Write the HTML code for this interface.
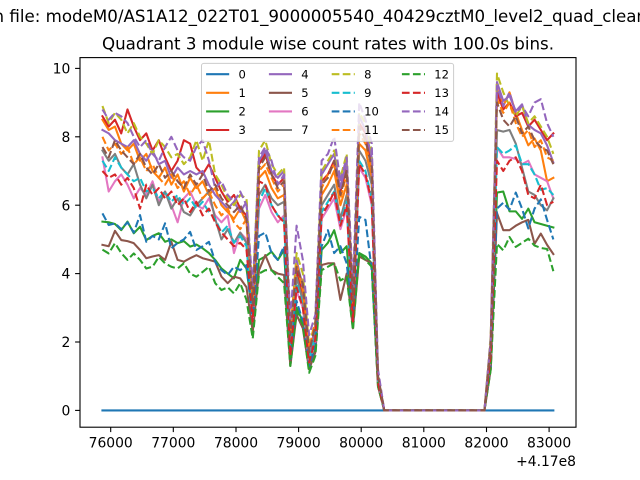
<!DOCTYPE html>
<html>
<head>
<meta charset="utf-8">
<style>
html,body{margin:0;padding:0;background:#fff;}
svg{display:block;}
text{font-family:"DejaVu Sans","Liberation Sans",sans-serif;fill:#000;}
</style>
</head>
<body>
<svg width="640" height="480" viewBox="0 0 640 480" xmlns="http://www.w3.org/2000/svg">
<rect x="0" y="0" width="640" height="480" fill="#ffffff"/>

<text x="-6.5" y="22" font-size="16.67">n file: modeM0/AS1A12_022T01_9000005540_40429cztM0_level2_quad_clean.evt</text>
<text x="328" y="49.3" font-size="16.67" text-anchor="middle">Quadrant 3 module wise count rates with 100.0s bins.</text>

<g transform="translate(102.45,410.4) scale(6.2625,-34.2)" fill="none" stroke-width="2.08" stroke-linejoin="round">
<polyline vector-effect="non-scaling-stroke" stroke="#1f77b4" stroke-linecap="square" points="0,0 72,0"/>
<polyline vector-effect="non-scaling-stroke" stroke="#ff7f0e" stroke-linecap="square" points="0,8.5 1,8.2 2,8.3 3,7.8 4,7.6 5,7.8 6,7.3 7,7.5 8,7 9,6.8 10,7.1 11,6.6 12,6.9 13,6.4 14,6.8 15,6.5 16,6.7 17,6.3 18,6.5 19,6 20,5.8 21,5.6 22,5.9 23,5.5 24,3 25,6.8 26,7 27,6.5 28,6.2 29,6.3 30,2.1 31,4 32,3.8 33,1.5 34,2.5 35,6.3 36,6.6 37,7 38,6 39,6.6 40,2.8 41,7.8 42,7.6 43,6.8 44,0.9 45,0 61,0 62,1.9 63,9.4 64,8.9 65,9.3 66,8.7 67,8.2 68,7.75 69,7.95 70,7.6 71,6.7 72,6.8"/>
<polyline vector-effect="non-scaling-stroke" stroke="#2ca02c" stroke-linecap="square" points="0,5.52 1,5.5 2,5.45 3,5.27 4,5.52 5,5.18 6,5.37 7,4.98 8,5.1 9,5.18 10,4.93 11,5 12,4.89 13,4.95 14,4.79 15,4.85 16,4.74 17,4.6 18,4.4 19,4.15 20,4 21,3.86 22,4.4 23,4.15 24,2.8 25,4.4 26,4.5 27,4.64 28,4.4 29,4.69 30,1.4 31,3 32,2.6 33,1.2 34,1.8 35,4.69 36,4.9 37,5.27 38,4.6 39,4.8 40,2.5 41,4.6 42,4.5 43,4.3 44,0.8 45,0 61,0 62,1.4 63,6.37 64,6.4 65,5.82 66,5.82 67,5.6 68,5.9 69,5.5 70,5.45 71,5.4 72,5.35"/>
<polyline vector-effect="non-scaling-stroke" stroke="#d62728" stroke-linecap="square" points="0,8.6 1,8.3 2,8.5 3,8.1 4,8.8 5,8.3 6,7.9 7,8.1 8,7.6 9,7.9 10,7.4 11,7 12,7.3 13,7.9 14,7.8 15,7.1 16,6.9 17,7.2 18,6.8 19,6.4 20,6.1 21,6.3 22,5.9 23,5.7 24,3 25,7.2 26,7.5 27,6.9 28,6.6 29,6.8 30,1.9 31,4.1 32,3.4 33,1.6 34,2.2 35,6.7 36,6.9 37,7.3 38,6.4 39,7.1 40,2.9 41,8.4 42,8.1 43,7.2 44,0.9 45,0 61,0 62,2 63,9.3 64,8.8 65,9 66,8.6 67,8.7 68,8.3 69,8.5 70,8.2 71,7.9 72,8.1"/>
<polyline vector-effect="non-scaling-stroke" stroke="#9467bd" stroke-linecap="square" points="0,8.2 1,8.1 2,7.9 3,7.8 4,7.7 5,7.9 6,7.5 7,7.3 8,7.6 9,7.2 10,7.3 11,6.8 12,7.1 13,6.9 14,7 15,6.9 16,7 17,6.6 18,6.3 19,6.1 20,5.9 21,6.1 22,5.8 23,6.1 24,3.2 25,7.3 26,7.6 27,7 28,6.8 29,7 30,2 31,4.4 32,3.6 33,1.7 34,2.4 35,6.9 36,7.2 37,7.5 38,6.5 39,7.3 40,3 41,8.6 42,8.2 43,7.4 44,1 45,0 61,0 62,2 63,9.6 64,9.05 65,9.2 66,8.75 67,8.95 68,8.35 69,8.2 70,8.1 71,7.75 72,7.25"/>
<polyline vector-effect="non-scaling-stroke" stroke="#8c564b" stroke-linecap="square" points="0,4.84 1,4.8 2,5.25 3,4.98 4,4.95 5,4.89 6,4.69 7,4.45 8,4.5 9,4.54 10,4.4 11,4.93 12,4.4 13,4.35 14,4.45 15,4.54 16,4.45 17,4.4 18,4.35 19,3.91 20,3.72 21,3.91 22,3.86 23,3.6 24,2.3 25,4.1 26,4.54 27,4.1 28,4 29,3.96 30,1.3 31,2.8 32,2.4 33,1.2 34,1.7 35,4.25 36,4.3 37,4.3 38,3.23 39,4 40,2.4 41,4.5 42,4.4 43,4.3 44,0.7 45,0 61,0 62,1.2 63,5.77 64,5.27 65,5.27 66,5.4 67,5.5 68,5.57 69,4.87 70,5.17 71,4.84 72,4.57"/>
<polyline vector-effect="non-scaling-stroke" stroke="#e377c2" stroke-linecap="square" points="0,7.4 1,6.4 2,6.7 3,6.9 4,6.6 5,6.2 6,6.5 7,6.3 8,6.7 9,6.1 10,6.4 11,6 12,5.5 13,6.2 14,6.4 15,6 16,5.9 17,6.2 18,5.7 19,5.5 20,5.7 21,4.6 22,5.2 23,5 24,2.6 25,5.9 26,6.3 27,5.8 28,5.5 29,5.7 30,1.7 31,3.5 32,3 33,1.4 34,2 35,5.6 36,5.9 37,6.2 38,5.3 39,5.9 40,2.6 41,7.1 42,6.8 43,6 44,0.8 45,0 61,0 62,1.6 63,7.7 64,7.4 65,7.4 66,7.35 67,7.2 68,7.3 69,6.9 70,6.8 71,6.7 72,6.2"/>
<polyline vector-effect="non-scaling-stroke" stroke="#7f7f7f" stroke-linecap="square" points="0,7.6 1,7.3 2,7.5 3,7.1 4,6.9 5,7.2 6,6.6 7,6.2 8,6.6 9,6 10,6.4 11,5.9 12,6.2 13,5.8 14,5.7 15,6 16,6.2 17,6.4 18,5.6 19,5 20,5.3 21,4.9 22,5.2 23,4.9 24,2.8 25,6.3 26,6.6 27,6.2 28,6 29,6.1 30,1.8 31,3.9 32,3.2 33,1.5 34,2.2 35,6 36,6.3 37,6.6 38,5.6 39,6.3 40,2.7 41,7.6 42,7.3 43,6.6 44,0.9 45,0 61,0 62,1.8 63,8.2 64,8.15 65,8.2 66,7.8 67,7.1 68,6.4 69,6.3 70,6 71,5.85 72,6.2"/>
<g stroke-linecap="butt" stroke-dasharray="7.7,3.33">
<polyline vector-effect="non-scaling-stroke" stroke="#bcbd22" points="0,8.9 1,8.4 2,8.7 3,8.5 4,8.1 5,8.4 6,8 7,7.8 8,7.5 9,7.9 10,7.7 11,7.4 12,7.5 13,7.2 14,7.4 15,7.9 16,7.3 17,7.9 18,6.9 19,6.6 20,6.2 21,6 22,6.3 23,6.2 24,3.4 25,7.6 26,7.9 27,7.2 28,6.9 29,7.1 30,2.2 31,4.6 32,4 33,1.9 34,2.6 35,7 36,7.3 37,7.6 38,6.8 39,7.5 40,3.3 41,8.7 42,8.4 43,7.6 44,1.1 45,0 61,0 62,2.2 63,9.85 64,9.3 65,8.9 66,8.6 67,8.9 68,8.4 69,8.6 70,8.3 71,8 72,7.5"/>
<polyline vector-effect="non-scaling-stroke" stroke="#17becf" points="0,7.3 1,7 2,7.4 3,7.1 4,6.9 5,6.7 6,6.8 7,6.4 8,6.5 9,6.2 10,6.4 11,6.1 12,6.3 13,6 14,6.2 15,5.9 16,6.1 17,5.8 18,5.6 19,5.2 20,5.4 21,4.9 22,5.1 23,4.8 24,2.7 25,6.1 26,6.5 27,6 28,5.7 29,5.6 30,1.8 31,3.7 32,3.1 33,1.5 34,2.2 35,5.8 36,6.1 37,6.4 38,5.5 39,6.1 40,2.7 41,7.3 42,7 43,6.2 44,0.9 45,0 61,0 62,1.7 63,7.7 64,7.5 65,7.6 66,7.75 67,7.2 68,7.2 69,6.9 70,6.45 71,6.5 72,6.3"/>
<polyline vector-effect="non-scaling-stroke" stroke="#1f77b4" points="0,5.76 1,5.42 2,5.47 3,5.3 4,5.5 5,5.2 6,5.71 7,4.93 8,5.1 9,5 10,5.47 11,4.74 12,4.9 13,5 14,5.22 15,4.69 16,4.8 17,4.93 18,4.35 19,4.1 20,3.96 21,4.2 22,4.1 23,4.25 24,2.6 25,5.1 26,5.2 27,4.6 28,4.4 29,4.8 30,1.5 31,3.2 32,2.6 33,1.3 34,1.9 35,4.8 36,5.27 37,4.6 38,4.8 39,4.3 40,2.6 41,5.66 42,5.57 43,4.1 44,0.8 45,0 61,0 62,1.3 63,5.9 64,6.07 65,5.87 66,6.37 67,5.9 68,5.32 69,5.9 70,6.17 71,5.57 72,5"/>
<polyline vector-effect="non-scaling-stroke" stroke="#ff7f0e" points="0,8 1,7.6 2,7.8 3,7.5 4,7.7 5,7.2 6,7.4 7,7 8,7.2 9,6.8 10,6.6 11,6.9 12,6.5 13,6.7 14,6.3 15,6.6 16,6.2 17,6.4 18,6 19,5.7 20,5.9 21,5.5 22,5.3 23,5.6 24,3.2 25,7 26,7.2 27,6.8 28,6.4 29,6.6 30,2.3 31,4.3 32,3.5 33,1.8 34,2.6 35,6.5 36,6.9 37,7.2 38,6.2 39,6.9 40,3.1 41,8.1 42,7.8 43,7 44,1 45,0 61,0 62,1.8 63,9.1 64,8.7 65,9 66,8.4 67,8 68,8.2 69,7.7 70,7.9 71,7.4 72,7.3"/>
<polyline vector-effect="non-scaling-stroke" stroke="#2ca02c" points="0,4.7 1,4.59 2,4.89 3,4.6 4,4.4 5,4.59 6,4.4 7,4.15 8,4.2 9,4.49 10,4.3 11,4.2 12,4.15 13,4.3 14,4 15,3.91 16,4.05 17,4.2 18,3.72 19,3.52 20,3.6 21,3.42 22,3.72 23,3.23 24,2.1 25,4 26,4.1 27,4.1 28,3.9 29,3.72 30,1.3 31,2.9 32,2.5 33,1.1 34,1.6 35,4.1 36,4.2 37,4.3 38,3.8 39,3.9 40,2.35 41,4.6 42,4.4 43,4.2 44,0.7 45,0 61,0 62,1.2 63,4.87 64,4.68 65,5.07 66,4.78 67,4.9 68,5.02 69,4.82 70,4.75 71,4.72 72,4.07"/>
<polyline vector-effect="non-scaling-stroke" stroke="#d62728" points="0,7 1,6.8 2,6.9 3,6.6 4,6.8 5,6.5 6,5.9 7,6.6 8,6.3 9,6.5 10,6.2 11,6.4 12,6 13,6.2 14,5.8 15,6.1 16,5.7 17,5.9 18,5.5 19,5.2 20,5 21,4.8 22,4.9 23,4.7 24,2.6 25,6.7 26,6.6 27,6 28,5.7 29,5.5 30,1.6 31,3.6 32,3 33,1.4 34,2.1 35,5.7 36,6 37,6.4 38,5.4 39,6 40,2.6 41,7.2 42,6.9 43,6.1 44,0.8 45,0 61,0 62,1.6 63,7.3 64,7 65,7.3 66,7.4 67,7 68,6.3 69,6.2 70,6.6 71,6 72,6.1"/>
<polyline vector-effect="non-scaling-stroke" stroke="#9467bd" points="0,8.8 1,8.5 2,8.7 3,8.6 4,8.4 5,8 6,7.7 7,7.9 8,7.5 9,7.3 10,7.7 11,8 12,7.6 13,7.4 14,7.3 15,7.7 16,7.9 17,7.3 18,6.5 19,6.7 20,6.3 21,6.1 22,6.4 23,6 24,3.6 25,7.4 26,7.7 27,7.3 28,6.6 29,6.9 30,2.6 31,5.4 32,4.4 33,2.2 34,2.8 35,7.3 36,7.5 37,8 38,6.7 39,7.4 40,3.6 41,9 42,8.5 43,7.8 44,1.2 45,0 61,0 62,2.1 63,9.5 64,8.9 65,9.3 66,8.7 67,8.9 68,8.6 69,9 70,9.1 71,8.4 72,8"/>
<polyline vector-effect="non-scaling-stroke" stroke="#8c564b" points="0,7.7 1,7.4 2,7.9 3,7.6 4,7.4 5,7.2 6,7.5 7,7.1 8,6.9 9,7.2 10,6.8 11,7 12,6.7 13,6.5 14,6.9 15,6.6 16,6.9 17,6.4 18,6.6 19,6.2 20,6 21,5.8 22,6 23,5.6 24,3.1 25,7.1 26,7.4 27,6.9 28,6.5 29,6.7 30,2.2 31,4.2 32,3.7 33,1.7 34,2.5 35,6.6 36,6.8 37,7.3 38,6.3 39,7 40,3.2 41,8.3 42,7.9 43,7.1 44,1 45,0 61,0 62,1.9 63,9 64,8.5 65,8.3 66,8.6 67,8.1 68,8.3 69,7.9 70,7.7 71,7.6 72,7.2"/>
</g>
</g>

<rect x="80" y="57.6" width="496" height="369.6" fill="none" stroke="#000" stroke-width="1.1"/>

<g stroke="#000" stroke-width="1.1">
<line x1="80" y1="410.4" x2="75.1" y2="410.4"/>
<line x1="80" y1="342" x2="75.1" y2="342"/>
<line x1="80" y1="273.6" x2="75.1" y2="273.6"/>
<line x1="80" y1="205.2" x2="75.1" y2="205.2"/>
<line x1="80" y1="136.8" x2="75.1" y2="136.8"/>
<line x1="80" y1="68.4" x2="75.1" y2="68.4"/>
</g>
<g font-size="13.89" text-anchor="end">
<text x="70.3" y="415.5">0</text>
<text x="70.3" y="347.1">2</text>
<text x="70.3" y="278.7">4</text>
<text x="70.3" y="210.3">6</text>
<text x="70.3" y="141.9">8</text>
<text x="70.3" y="73.5">10</text>
</g>

<g stroke="#000" stroke-width="1.1">
<line x1="110.7" y1="427.2" x2="110.7" y2="432.1"/>
<line x1="173.3" y1="427.2" x2="173.3" y2="432.1"/>
<line x1="236" y1="427.2" x2="236" y2="432.1"/>
<line x1="298.6" y1="427.2" x2="298.6" y2="432.1"/>
<line x1="361.2" y1="427.2" x2="361.2" y2="432.1"/>
<line x1="423.8" y1="427.2" x2="423.8" y2="432.1"/>
<line x1="486.5" y1="427.2" x2="486.5" y2="432.1"/>
<line x1="549.1" y1="427.2" x2="549.1" y2="432.1"/>
</g>
<g font-size="13.89" text-anchor="middle">
<text x="110.7" y="447.5">76000</text>
<text x="173.3" y="447.5">77000</text>
<text x="236" y="447.5">78000</text>
<text x="298.6" y="447.5">79000</text>
<text x="361.2" y="447.5">80000</text>
<text x="423.8" y="447.5">81000</text>
<text x="486.5" y="447.5">82000</text>
<text x="549.1" y="447.5">83000</text>
</g>
<text x="576" y="466" font-size="13.89" text-anchor="end">+4.17e8</text>

<rect x="201.5" y="63.4" width="252.1" height="78" rx="2.3" ry="2.3" fill="#ffffff" fill-opacity="0.8" stroke="#cccccc" stroke-width="1"/>
<g fill="none" stroke-width="2.08">
<line x1="206.1" y1="74.2" x2="229.2" y2="74.2" stroke="#1f77b4"/>
<line x1="206.1" y1="92.8" x2="229.2" y2="92.8" stroke="#ff7f0e"/>
<line x1="206.1" y1="111.4" x2="229.2" y2="111.4" stroke="#2ca02c"/>
<line x1="206.1" y1="130" x2="229.2" y2="130" stroke="#d62728"/>
<line x1="268.9" y1="74.2" x2="292" y2="74.2" stroke="#9467bd"/>
<line x1="268.9" y1="92.8" x2="292" y2="92.8" stroke="#8c564b"/>
<line x1="268.9" y1="111.4" x2="292" y2="111.4" stroke="#e377c2"/>
<line x1="268.9" y1="130" x2="292" y2="130" stroke="#7f7f7f"/>
<g stroke-dasharray="7.7,3.33">
<line x1="331.7" y1="74.2" x2="354.8" y2="74.2" stroke="#bcbd22"/>
<line x1="331.7" y1="92.8" x2="354.8" y2="92.8" stroke="#17becf"/>
<line x1="331.7" y1="111.4" x2="354.8" y2="111.4" stroke="#1f77b4"/>
<line x1="331.7" y1="130" x2="354.8" y2="130" stroke="#ff7f0e"/>
<line x1="401.9" y1="74.2" x2="425" y2="74.2" stroke="#2ca02c"/>
<line x1="401.9" y1="92.8" x2="425" y2="92.8" stroke="#d62728"/>
<line x1="401.9" y1="111.4" x2="425" y2="111.4" stroke="#9467bd"/>
<line x1="401.9" y1="130" x2="425" y2="130" stroke="#8c564b"/>
</g>
</g>
<g font-size="11.57">
<text x="238.5" y="78.4">0</text>
<text x="238.5" y="97">1</text>
<text x="238.5" y="115.6">2</text>
<text x="238.5" y="134.2">3</text>
<text x="301.3" y="78.4">4</text>
<text x="301.3" y="97">5</text>
<text x="301.3" y="115.6">6</text>
<text x="301.3" y="134.2">7</text>
<text x="364.1" y="78.4">8</text>
<text x="364.1" y="97">9</text>
<text x="364.1" y="115.6">10</text>
<text x="364.1" y="134.2">11</text>
<text x="434.3" y="78.4">12</text>
<text x="434.3" y="97">13</text>
<text x="434.3" y="115.6">14</text>
<text x="434.3" y="134.2">15</text>
</g>
</svg>
</body>
</html>
